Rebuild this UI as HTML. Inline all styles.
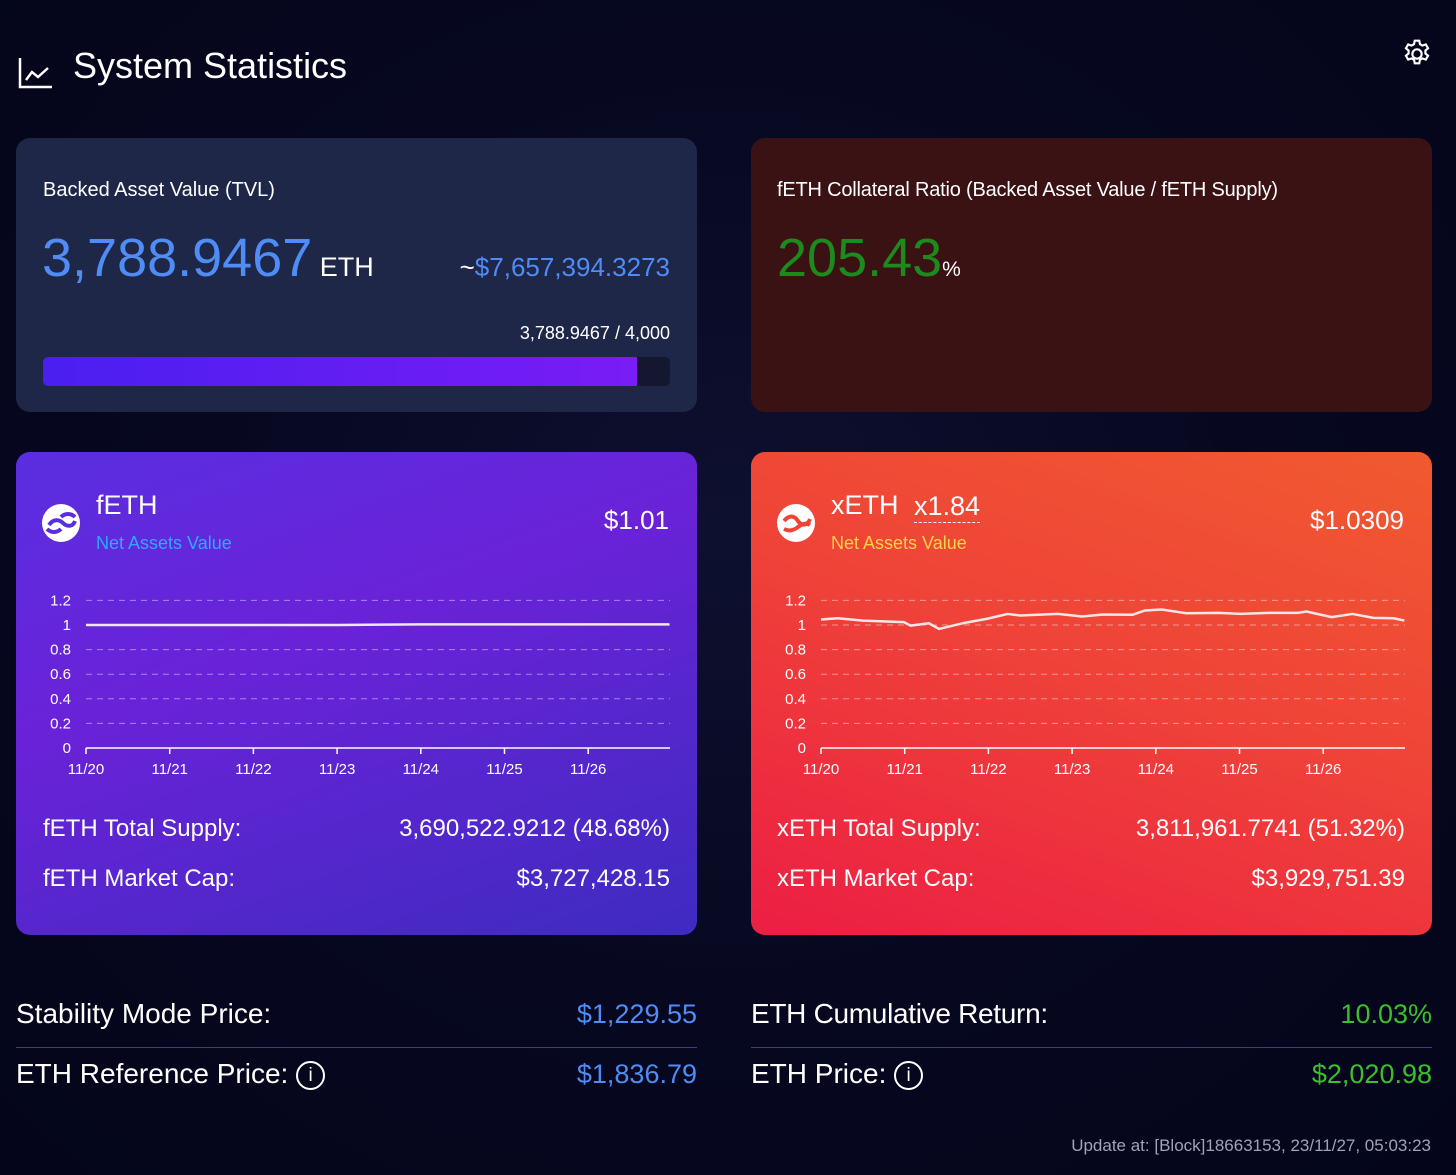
<!DOCTYPE html>
<html><head><meta charset="utf-8">
<style>
*{margin:0;padding:0;box-sizing:border-box}
body{width:1456px;height:1175px;overflow:hidden;background:radial-gradient(ellipse at 50% 45%,#0e1030 0%,#070820 50%,#04051a 100%);font-family:"Liberation Sans",sans-serif;color:#fff;position:relative}
.a{position:absolute;white-space:nowrap}
.card{position:absolute;border-radius:14px}
</style></head><body>
<svg class="a" style="left:18px;top:56px" width="36" height="34" viewBox="0 0 36 34"><path d="M2 2V31H34" fill="none" stroke="#fff" stroke-width="2.5"/><path d="M8 24L14 16L20 21L30 12" fill="none" stroke="#fff" stroke-width="2.5"/></svg>
<div class="a" style="left:73px;top:45px;font-size:36px">System Statistics</div>
<svg class="a" style="left:1401px;top:38px" width="32" height="32" viewBox="0 0 24 24"><path d="M12 8.5a3.5 3.5 0 1 0 0 7a3.5 3.5 0 1 0 0-7z M10.3 2h3.4l.5 2.6 1.9 1.1 2.5-.9 1.7 2.9-2 1.7v2.2l2 1.7-1.7 2.9-2.5-.9-1.9 1.1-.5 2.6h-3.4l-.5-2.6-1.9-1.1-2.5.9-1.7-2.9 2-1.7V9.4l-2-1.7 1.7-2.9 2.5.9 1.9-1.1z" fill="none" stroke="#fff" stroke-width="1.6"/></svg>

<div class="card" style="left:16px;top:138px;width:681px;height:274px;background:#1e2748">
  <div class="a" style="left:27px;top:41px;font-size:20px">Backed Asset Value (TVL)</div>
  <div class="a" style="left:26px;top:89px;font-size:54px;color:#4f8cf5">3,788.9467<span style="font-size:27px;color:#fff"> ETH</span></div>
  <div class="a" style="right:27px;top:114px;font-size:26px;color:#4f8cf5"><span style="color:#fff">~</span>$7,657,394.3273</div>
  <div class="a" style="right:27px;top:185px;font-size:18px">3,788.9467 / 4,000</div>
  <div class="a" style="left:27px;top:219px;width:627px;height:29px;background:#151630;border-radius:5px;overflow:hidden"><div style="width:594px;height:29px;background:linear-gradient(90deg,#4a1ff0,#7a1cf5)"></div></div>
</div>

<div class="card" style="left:751px;top:138px;width:681px;height:274px;background:#3a1213">
  <div class="a" style="left:26px;top:41px;font-size:20px;letter-spacing:-0.2px">fETH Collateral Ratio (Backed Asset Value / fETH Supply)</div>
  <div class="a" style="left:26px;top:89px;font-size:54px;color:#1d8a1d">205.43<span style="font-size:21px;color:#fff">%</span></div>
</div>

<div class="card" style="left:16px;top:452px;width:681px;height:483px;background:linear-gradient(160deg,#5a2ee0 0%,#6a22d8 40%,#3e2bc0 100%)">
  <svg class="a" style="left:25px;top:51px" width="40" height="40" viewBox="0 0 40 40"><circle cx="20" cy="20" r="19" fill="#fff"/><path d="M8 22c4-6 10-6 14-2s10 4 12-2M6 26c4 4 10 4 14 0M20 14c4-4 10-4 14 0" fill="none" stroke="#5a2ee0" stroke-width="4"/></svg>
  <div class="a" style="left:80px;top:38px;font-size:27px">fETH</div>
  <div class="a" style="left:80px;top:81px;font-size:18px;color:#2fa8ff">Net Assets Value</div>
  <div class="a" style="right:28px;top:53px;font-size:26px">$1.01</div>
  <svg id="fchart" class="a" style="left:24px;top:136px" width="640" height="200"></svg>
  <div class="a" style="left:27px;top:363px;font-size:24px">fETH Total Supply:</div>
  <div class="a" style="right:27px;top:363px;font-size:24px">3,690,522.9212 (48.68%)</div>
  <div class="a" style="left:27px;top:413px;font-size:24px">fETH Market Cap:</div>
  <div class="a" style="right:27px;top:413px;font-size:24px">$3,727,428.15</div>
</div>

<div class="card" style="left:751px;top:452px;width:681px;height:483px;background:linear-gradient(200deg,#f05a30 0%,#ef4338 45%,#ec1e44 100%)">
  <svg class="a" style="left:25px;top:51px" width="40" height="40" viewBox="0 0 40 40"><circle cx="20" cy="20" r="19" fill="#fff"/><path d="M8 18c5-6 10-6 14 0s10 4 12-2M8 26c4 2 9 2 14-2s9-4 12-2" fill="none" stroke="#ef4338" stroke-width="4"/></svg>
  <div class="a" style="left:80px;top:38px;font-size:27px">xETH</div>
  <div class="a" style="left:163px;top:38px;font-size:27px;border-bottom:1.5px dashed #fff;line-height:32px">x1.84</div>
  <div class="a" style="left:80px;top:81px;font-size:18px;color:#ffd24a">Net Assets Value</div>
  <div class="a" style="right:28px;top:53px;font-size:26px">$1.0309</div>
  <svg id="xchart" class="a" style="left:24px;top:136px" width="640" height="200"></svg>
  <div class="a" style="left:26px;top:363px;font-size:24px">xETH Total Supply:</div>
  <div class="a" style="right:27px;top:363px;font-size:24px">3,811,961.7741 (51.32%)</div>
  <div class="a" style="left:26px;top:413px;font-size:24px">xETH Market Cap:</div>
  <div class="a" style="right:27px;top:413px;font-size:24px">$3,929,751.39</div>
</div>

<div class="a" style="left:16px;top:998px;font-size:28px">Stability Mode Price:</div>
<div class="a" style="right:759px;top:999px;font-size:27px;color:#4f8cf5">$1,229.55</div>
<div class="a" style="left:16px;top:1047px;width:681px;height:1px;background:#3a3f8a"></div>
<div class="a" style="left:16px;top:1058px;font-size:28px">ETH Reference Price: <span style="display:inline-block;width:29px;height:29px;border:2px solid #fff;border-radius:50%;font-size:19px;text-align:center;line-height:25px;vertical-align:middle">i</span></div>
<div class="a" style="right:759px;top:1059px;font-size:27px;color:#4f8cf5">$1,836.79</div>

<div class="a" style="left:751px;top:998px;font-size:28px;letter-spacing:-0.3px">ETH Cumulative Return:</div>
<div class="a" style="right:24px;top:999px;font-size:27px;color:#3bbf2a">10.03%</div>
<div class="a" style="left:751px;top:1047px;width:681px;height:1px;background:#3a3f8a"></div>
<div class="a" style="left:751px;top:1058px;font-size:28px">ETH Price: <span style="display:inline-block;width:29px;height:29px;border:2px solid #fff;border-radius:50%;font-size:19px;text-align:center;line-height:25px;vertical-align:middle">i</span></div>
<div class="a" style="right:24px;top:1059px;font-size:27px;color:#3bbf2a">$2,020.98</div>

<div class="a" style="right:25px;top:1136px;font-size:17px;color:#a0a3b8">Update at: [Block]18663153, 23/11/27, 05:03:23</div>

<script>
const yTicks=[0,0.2,0.4,0.6,0.8,1,1.2];
const yTickLabels=["0","0.2","0.4","0.6","0.8","1","1.2"];
const xTickLabels=["11/20","11/21","11/22","11/23","11/24","11/25","11/26"];
const fethDays=[0,1,2,3,4,5,6,6.97];
const fethValues=[1.0,1.0,1.0,1.0,1.005,1.005,1.005,1.005];
const xethDays=[0,0.2,0.5,0.99,1.07,1.29,1.41,1.69,1.98,2.23,2.38,2.83,3.12,3.37,3.72,3.87,4.07,4.36,4.76,5.01,5.35,5.7,5.8,6.1,6.35,6.6,6.84,6.97];
const xethValues=[1.045,1.055,1.036,1.023,0.995,1.014,0.968,1.014,1.05,1.09,1.077,1.09,1.069,1.085,1.083,1.118,1.126,1.096,1.099,1.09,1.099,1.099,1.11,1.064,1.09,1.058,1.055,1.036];
const NS="http://www.w3.org/2000/svg";
function xs(d){return 46+d*83.7;}
function ys(v){return 160-v*123;}
function mk(svg,tag,attrs){const e=document.createElementNS(NS,tag);for(const k in attrs)e.setAttribute(k,attrs[k]);svg.appendChild(e);return e;}
function draw(id,days,vals,prefix){
  const svg=document.getElementById(id);
  yTicks.forEach((t,i)=>{
    if(t>0){const g=mk(svg,'line',{x1:46,x2:630,y1:ys(t),y2:ys(t),stroke:'rgba(255,255,255,0.45)','stroke-width':1,'stroke-dasharray':'6,5'});
    
    }
    const l=mk(svg,'text',{x:31,y:ys(t)+5,'text-anchor':'end',fill:'#fff','font-size':15,'font-family':'Liberation Sans, sans-serif'});
    l.textContent=yTickLabels[i];
    
    
  });
  const ax=mk(svg,'line',{x1:46,x2:630,y1:ys(0),y2:ys(0),stroke:'#fff','stroke-width':1.5});
  
  
  xTickLabels.forEach((s,i)=>{
    const tk=mk(svg,'line',{x1:xs(i),x2:xs(i),y1:ys(0),y2:ys(0)+6,stroke:'#fff','stroke-width':1.5});
    
    
    const t=mk(svg,'text',{x:xs(i),y:ys(0)+26,'text-anchor':'middle',fill:'#fff','font-size':15,'font-family':'Liberation Sans, sans-serif'});
    t.textContent=s;
    
    
  });
  const p=mk(svg,'polyline',{points:days.map((d,i)=>xs(d)+','+ys(vals[i])).join(' '),fill:'none',stroke:'#f4e6e6','stroke-width':2.5,'stroke-linejoin':'round'});
  
  
}
draw('fchart',fethDays,fethValues,'feth');
draw('xchart',xethDays,xethValues,'xeth');
</script>
</body></html>
